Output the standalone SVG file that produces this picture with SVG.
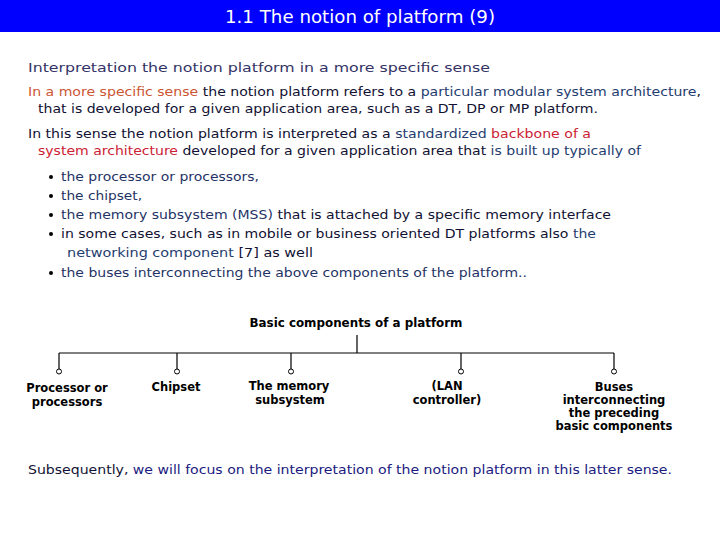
<svg xmlns="http://www.w3.org/2000/svg" width="720" height="540" viewBox="0 0 720 540">
<style>
.t{font-family:"DejaVu Sans","Verdana",sans-serif;font-size:13px;fill:#111133}
.o{fill:#CC5533}.b{fill:#1F3D6F}.r{fill:#CC2233}.n{fill:#1F3366}.nv{fill:#1A1A80}
.lbl{font-family:"DejaVu Sans",sans-serif;font-size:11.5px;font-weight:bold;fill:#000;text-anchor:middle}
.ln{stroke:#000;stroke-width:1.2;fill:none}
.dot{fill:#fff;stroke:#000;stroke-width:1}
</style>
<rect width="720" height="540" fill="#fff"/>
<g id="title">
<rect x="0" y="0" width="720" height="32" fill="#0000FF"/>
<text x="360" y="23" text-anchor="middle" font-family="DejaVu Sans,sans-serif" font-size="17" fill="#fff" textLength="270" lengthAdjust="spacingAndGlyphs">1.1 The notion of platform (9)</text>
</g>
<g id="body">
<text class="t" x="28" y="72" fill="#333366" style="fill:#333366" textLength="462" lengthAdjust="spacingAndGlyphs">Interpretation the notion platform in a more specific sense</text>
<text class="t" x="28" y="96" textLength="673" lengthAdjust="spacingAndGlyphs"><tspan class="o">In a more specific sense</tspan> the notion platform refers to a <tspan class="b">particular modular system architecture</tspan>,</text>
<text class="t" x="38" y="113" textLength="560" lengthAdjust="spacingAndGlyphs">that is developed for a given application area, such as a DT, DP or MP platform.</text>
<text class="t" x="28" y="138" textLength="563" lengthAdjust="spacingAndGlyphs">In this sense the notion platform is interpreted as a <tspan class="b">standardized</tspan> <tspan class="r">backbone of a</tspan></text>
<text class="t" x="38" y="155" textLength="603" lengthAdjust="spacingAndGlyphs"><tspan class="r">system architecture</tspan> developed for a given application area that <tspan class="b">is built up typically of</tspan></text>
<g id="bullets">
<circle cx="51" cy="177" r="2" fill="#000"/>
<circle cx="51" cy="196" r="2" fill="#000"/>
<circle cx="51" cy="215" r="2" fill="#000"/>
<circle cx="51" cy="234" r="2" fill="#000"/>
<circle cx="51" cy="273" r="2" fill="#000"/>
<text class="t n" x="61" y="181" textLength="198" lengthAdjust="spacingAndGlyphs">the processor or processors,</text>
<text class="t n" x="61" y="200" textLength="81" lengthAdjust="spacingAndGlyphs">the chipset,</text>
<text class="t" x="61" y="219" textLength="550" lengthAdjust="spacingAndGlyphs"><tspan class="n">the memory subsystem (MSS)</tspan> that is attached by a specific memory interface</text>
<text class="t" x="61" y="238" textLength="535" lengthAdjust="spacingAndGlyphs">in some cases, such as in mobile or business oriented DT platforms also <tspan class="b">the</tspan></text>
<text class="t" x="67" y="257" textLength="246" lengthAdjust="spacingAndGlyphs"><tspan class="b">networking  component</tspan> [7] as well</text>
<text class="t n" x="61" y="277" textLength="466" lengthAdjust="spacingAndGlyphs">the buses interconnecting the above components of the platform..</text>
</g>
<text class="t" x="28" y="474" textLength="644" lengthAdjust="spacingAndGlyphs">Subsequently, <tspan class="nv">we will focus on the interpretation of the notion platform in this latter sense.</tspan></text>
</g>
<g id="connectors">
<path class="ln" d="M357 335V353M59 353H614M59 353V369M177 353V369M291 353V369M461 353V369M614 353V369"/>
<circle class="dot" cx="59" cy="371.5" r="2.5"/>
<circle class="dot" cx="177" cy="371.5" r="2.5"/>
<circle class="dot" cx="291" cy="371.5" r="2.5"/>
<circle class="dot" cx="461" cy="371.5" r="2.5"/>
<circle class="dot" cx="614" cy="371.5" r="2.5"/>
</g>
<g id="root"><text class="lbl" x="356" y="327" textLength="213" lengthAdjust="spacingAndGlyphs">Basic components of a platform</text></g>
<g id="processor"><text class="lbl" x="67" y="392">Processor or</text><text class="lbl" x="67" y="406">processors</text></g>
<g id="chipset"><text class="lbl" x="176" y="391">Chipset</text></g>
<g id="memory"><text class="lbl" x="289" y="390">The memory</text><text class="lbl" x="290" y="404">subsystem</text></g>
<g id="lan"><text class="lbl" x="447" y="390">(LAN</text><text class="lbl" x="447" y="404">controller)</text></g>
<g id="buses"><text class="lbl" x="614" y="391">Buses</text><text class="lbl" x="614" y="404">interconnecting</text><text class="lbl" x="614" y="417">the preceding</text><text class="lbl" x="614" y="430">basic components</text></g>
</svg>
